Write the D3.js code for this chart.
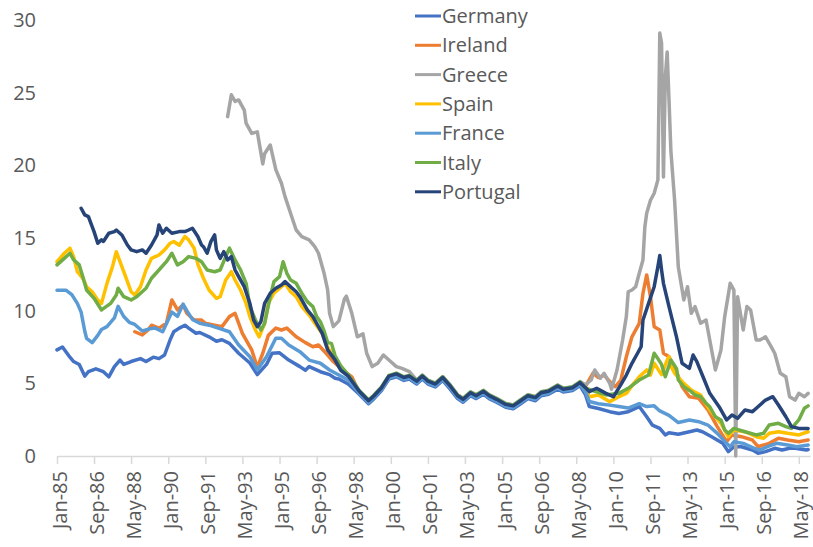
<!DOCTYPE html>
<html>
<head>
<meta charset="utf-8">
<script src="https://cdnjs.cloudflare.com/ajax/libs/d3/7.8.5/d3.min.js"></script>
<style>
    body { margin: 0; background: #fff; }
    text { font-family: "Open Sans", "DejaVu Sans", sans-serif; fill: #595959; }
</style>
</head>
<body>
<div id="chart"></div>
<script>

// 10-year government bond yields, %
var germany = [
    ["1985-01",7.3],["1985-04",7.5],["1985-08",6.8],["1985-10",6.5],["1986-01",6.3],["1986-04",5.5],["1986-06",5.8],["1986-10",6.0],
    ["1987-02",5.8],["1987-05",5.45],["1987-08",6.15],["1987-11",6.6],["1988-01",6.3],["1988-05",6.5],["1988-10",6.7],["1989-01",6.5],
    ["1989-05",6.8],["1989-08",6.7],["1989-11",6.95],["1990-02",8.0],["1990-04",8.55],["1990-07",8.8],["1990-10",9.0],["1990-12",8.8],
    ["1991-04",8.45],["1991-06",8.5],["1991-11",8.2],["1992-03",7.9],["1992-06",8.0],["1992-10",7.75],["1993-03",7.07],["1993-09",6.4],
    ["1994-01",5.6],["1994-06",6.3],["1994-09",7.07],["1995-01",7.1],["1995-06",6.6],["1995-12",6.15],["1996-03",5.9],["1996-05",6.15],
    ["1996-11",5.8],["1997-04",5.6],["1997-07",5.35],["1997-09",5.3],["1998-02",4.95],["1998-08",4.25],["1999-01",3.6],["1999-04",3.95],
    ["1999-08",4.5],["1999-12",5.3],["2000-04",5.45],["2000-08",5.2],["2000-11",5.3],["2001-03",4.95],["2001-06",5.3],["2001-09",4.95],
    ["2002-01",4.75],["2002-05",5.2],["2002-09",4.6],["2003-01",3.95],["2003-04",3.7],["2003-08",4.15],["2003-11",3.95],["2004-03",4.25],
    ["2004-06",3.95],["2004-10",3.7],["2005-03",3.35],["2005-07",3.25],["2005-11",3.6],["2006-03",3.95],["2006-07",3.8],["2006-10",4.15],
    ["2007-02",4.25],["2007-07",4.6],["2007-10",4.4],["2008-03",4.5],["2008-07",4.85],["2008-10",4.2],["2008-12",3.4],["2009-05",3.27],
    ["2009-11",3.05],["2010-04",2.93],["2010-09",3.05],["2011-03",3.4],["2011-07",2.7],["2011-10",2.13],["2012-02",1.9],["2012-05",1.45],
    ["2012-07",1.6],["2012-12",1.5],["2013-06",1.67],["2013-10",1.79],["2014-01",1.67],["2014-06",1.33],["2014-12",0.87],["2015-03",0.3],
    ["2015-06",0.64],["2015-10",0.64],["2016-04",0.41],["2016-07",0.19],["2016-11",0.3],["2017-04",0.53],["2017-08",0.41],["2017-12",0.53],
    ["2018-03",0.53],["2018-09",0.41],["2018-10",0.45]
];

var ireland = [
    ["1988-07",8.55],["1988-11",8.33],["1989-02",8.67],["1989-04",9.0],["1989-08",8.8],["1989-12",9.13],["1990-03",10.74],["1990-06",10.05],
    ["1990-09",10.4],["1990-11",9.82],["1991-03",9.36],["1991-07",9.36],["1991-09",9.13],["1992-02",9.0],["1992-06",8.9],["1992-10",9.59],
    ["1993-01",9.82],["1993-05",8.44],["1993-10",7.3],["1994-01",6.1],["1994-04",7.07],["1994-07",8.3],["1994-11",8.8],["1995-02",8.67],
    ["1995-05",8.8],["1995-10",8.2],["1996-03",7.8],["1996-07",7.52],["1996-10",7.64],["1997-03",6.95],["1997-06",6.5],["1997-11",5.92],
    ["1998-04",5.45],["1998-08",4.37],["1999-01",3.72],["1999-04",4.07],["1999-08",4.62],["1999-12",5.42],["2000-04",5.57],["2000-08",5.32],
    ["2000-11",5.42],["2001-03",5.07],["2001-06",5.42],["2001-09",5.07],["2002-01",4.87],["2002-05",5.32],["2002-09",4.74],["2003-01",4.07],
    ["2003-04",3.82],["2003-08",4.27],["2003-11",4.07],["2004-03",4.37],["2004-06",4.07],["2004-10",3.82],["2005-03",3.47],["2005-07",3.37],
    ["2005-11",3.72],["2006-03",4.07],["2006-07",3.94],["2006-10",4.27],["2007-02",4.37],["2007-07",4.74],["2007-10",4.52],["2008-03",4.62],
    ["2008-07",4.97],["2008-10",4.8],["2009-02",5.7],["2009-05",5.4],["2009-08",5.57],["2009-12",5.0],["2010-02",4.77],["2010-05",5.2],
    ["2010-08",6.83],["2010-11",8.2],["2011-03",9.13],["2011-05",11.2],["2011-07",12.46],["2011-09",10.96],["2011-11",8.9],["2012-02",8.67],
    ["2012-04",7.07],["2012-07",6.83],["2012-11",5.8],["2013-02",4.77],["2013-06",4.08],["2013-11",3.97],["2014-04",3.17],["2014-09",2.02],
    ["2015-02",0.98],["2015-05",1.45],["2015-10",1.33],["2016-04",1.1],["2016-07",0.64],["2017-01",0.87],["2017-06",1.22],["2017-11",1.1],
    ["2018-05",0.98],["2018-10",1.1]
];

var greece = [
    ["1992-09",23.35],["1992-11",24.85],["1993-01",24.4],["1993-03",24.5],["1993-06",23.8],["1993-07",22.9],["1993-10",22.2],["1994-01",22.3],
    ["1994-04",20.1],["1994-05",20.8],["1994-08",21.4],["1994-11",19.7],["1995-02",18.77],["1995-04",17.85],["1995-07",16.7],["1995-10",15.55],
    ["1996-01",15.1],["1996-05",14.87],["1996-08",14.4],["1996-10",13.95],["1997-01",12.57],["1997-03",11.42],["1997-04",9.82],["1997-06",8.9],
    ["1997-09",9.3],["1997-12",10.8],["1998-01",11.0],["1998-04",9.82],["1998-07",8.2],["1998-10",8.4],["1998-12",7.07],["1999-03",6.15],
    ["1999-06",6.38],["1999-09",6.95],["1999-12",6.6],["2000-04",6.15],["2000-07",6.03],["2000-11",5.8],["2001-03",5.22],["2001-06",5.57],
    ["2001-09",5.22],["2002-01",5.02],["2002-05",5.47],["2002-09",4.89],["2003-01",4.22],["2003-04",3.97],["2003-08",4.42],["2003-11",4.22],
    ["2004-03",4.52],["2004-06",4.22],["2004-10",3.97],["2005-03",3.62],["2005-07",3.52],["2005-11",3.87],["2006-03",4.22],["2006-07",4.09],
    ["2006-10",4.42],["2007-02",4.52],["2007-07",4.89],["2007-10",4.67],["2008-03",4.77],["2008-07",5.12],["2008-10",4.9],["2009-01",5.23],
    ["2009-03",5.92],["2009-06",5.35],["2009-08",5.69],["2009-11",5.0],["2009-12",4.6],["2010-03",5.92],["2010-06",7.98],["2010-08",9.59],
    ["2010-09",11.3],["2010-11",11.42],["2011-01",11.65],["2011-03",12.57],["2011-05",13.49],["2011-06",15.78],["2011-07",16.7],["2011-09",17.6],
    ["2011-11",18.08],["2012-01",19.0],["2012-02",29.1],["2012-03",28.4],["2012-04",19.2],["2012-05",26.0],["2012-06",27.8],["2012-07",24.5],
    ["2012-08",21.0],["2012-10",17.6],["2012-12",13.0],["2013-03",10.74],["2013-05",11.65],["2013-07",9.82],["2013-09",10.28],["2013-12",9.13],
    ["2014-03",9.36],["2014-05",7.98],["2014-08",5.92],["2014-11",7.3],["2015-01",9.59],["2015-04",11.88],["2015-06",11.42],["2015-07",0],
    ["2015-08",10.96],["2015-11",8.67],["2016-01",10.28],["2016-03",10.05],["2016-06",7.98],["2016-08",7.98],["2016-11",8.2],["2017-02",7.52],
    ["2017-04",7.07],["2017-07",5.69],["2017-10",5.45],["2017-12",4.08],["2018-03",3.85],["2018-05",4.31],["2018-08",4.08],["2018-10",4.31]
];

var spain = [
    ["1985-01",13.37],["1985-05",13.95],["1985-08",14.3],["1985-10",13.7],["1985-12",12.68],["1986-03",12.23],["1986-05",11.65],["1986-08",11.3],
    ["1986-11",10.74],["1987-01",10.5],["1987-04",11.88],["1987-07",13.03],["1987-09",14.06],["1987-11",13.37],["1988-02",12.34],["1988-05",11.3],
    ["1988-07",11.08],["1988-10",11.65],["1989-01",12.8],["1989-04",13.6],["1989-08",13.83],["1989-11",14.18],["1990-02",14.64],["1990-04",14.76],
    ["1990-07",14.5],["1990-10",15.1],["1990-12",14.87],["1991-03",14.3],["1991-05",13.2],["1991-08",12.23],["1991-11",11.42],["1992-03",10.85],
    ["1992-05",10.96],["1992-08",12.11],["1992-11",12.68],["1993-01",12.11],["1993-04",11.42],["1993-07",10.5],["1993-09",9.59],["1993-12",8.67],
    ["1994-02",8.2],["1994-05",9.13],["1994-07",10.5],["1994-10",11.2],["1995-02",11.65],["1995-04",11.88],["1995-07",11.3],["1995-10",10.96],
    ["1996-01",10.28],["1996-05",9.7],["1996-08",9.13],["1996-12",8.44],["1997-03",7.5],["1997-06",6.8],["1997-11",6.0],["1998-03",5.4],
    ["1998-08",4.4],["1999-01",3.75],["1999-04",4.1],["1999-08",4.65],["1999-12",5.45],["2000-04",5.6],["2000-08",5.35],["2000-11",5.45],
    ["2001-03",5.1],["2001-06",5.45],["2001-09",5.1],["2002-01",4.9],["2002-05",5.35],["2002-09",4.77],["2003-01",4.1],["2003-04",3.85],
    ["2003-08",4.3],["2003-11",4.1],["2004-03",4.4],["2004-06",4.1],["2004-10",3.85],["2005-03",3.5],["2005-07",3.4],["2005-11",3.75],
    ["2006-03",4.1],["2006-07",3.97],["2006-10",4.3],["2007-02",4.4],["2007-07",4.77],["2007-10",4.55],["2008-03",4.65],["2008-07",5.0],
    ["2008-10",4.6],["2008-12",4.08],["2009-05",4.2],["2009-11",3.74],["2010-04",4.08],["2010-08",4.31],["2010-12",5.0],["2011-03",5.45],
    ["2011-07",5.92],["2011-09",5.57],["2011-11",6.38],["2012-03",5.6],["2012-06",6.6],["2012-07",6.83],["2012-08",6.2],["2012-10",5.69],
    ["2013-03",5.0],["2013-07",4.54],["2013-12",4.2],["2014-05",3.17],["2014-11",2.25],["2015-03",1.33],["2015-06",1.79],["2015-12",1.67],
    ["2016-06",1.33],["2016-10",1.22],["2017-01",1.56],["2017-06",1.67],["2017-11",1.56],["2018-05",1.45],["2018-10",1.67]
];

var france = [
    ["1985-01",11.4],["1985-06",11.4],["1985-09",11.1],["1985-12",10.5],["1986-02",9.9],["1986-04",8.6],["1986-05",8.1],["1986-08",7.8],
    ["1986-11",8.3],["1987-01",8.7],["1987-04",8.9],["1987-08",9.5],["1987-10",10.3],["1988-01",9.6],["1988-04",9.2],["1988-07",9.05],
    ["1988-11",8.6],["1989-03",8.75],["1989-06",8.8],["1989-10",8.55],["1989-12",9.1],["1990-03",9.9],["1990-06",9.6],["1990-09",10.45],
    ["1990-11",10.0],["1991-02",9.4],["1991-06",9.13],["1991-11",9.0],["1992-04",8.8],["1992-10",8.55],["1993-03",7.64],["1993-09",6.83],
    ["1994-01",5.92],["1994-06",6.83],["1994-11",8.1],["1995-02",8.1],["1995-06",7.64],["1995-12",7.18],["1996-05",6.6],["1996-11",6.38],
    ["1997-04",5.92],["1997-09",5.57],["1998-02",5.23],["1998-08",4.32],["1999-01",3.67],["1999-04",4.02],["1999-08",4.57],["1999-12",5.37],
    ["2000-04",5.52],["2000-08",5.27],["2000-11",5.37],["2001-03",5.02],["2001-06",5.37],["2001-09",5.02],["2002-01",4.82],["2002-05",5.27],
    ["2002-09",4.69],["2003-01",4.02],["2003-04",3.77],["2003-08",4.22],["2003-11",4.02],["2004-03",4.32],["2004-06",4.02],["2004-10",3.77],
    ["2005-03",3.42],["2005-07",3.32],["2005-11",3.67],["2006-03",4.02],["2006-07",3.89],["2006-10",4.22],["2007-02",4.32],["2007-07",4.69],
    ["2007-10",4.47],["2008-03",4.57],["2008-07",4.92],["2008-10",4.4],["2008-12",3.75],["2009-05",3.6],["2009-11",3.5],["2010-04",3.4],
    ["2010-09",3.3],["2011-03",3.6],["2011-07",3.4],["2011-11",3.45],["2012-02",3.1],["2012-07",2.8],["2012-12",2.3],["2013-06",2.48],
    ["2013-11",2.36],["2014-04",2.13],["2014-09",1.56],["2015-02",0.87],["2015-04",0.64],["2015-06",0.98],["2015-11",0.87],["2016-05",0.53],
    ["2016-08",0.41],["2016-12",0.64],["2017-05",0.87],["2017-11",0.76],["2018-04",0.64],["2018-10",0.76]
];

var italy = [
    ["1985-01",13.15],["1985-05",13.6],["1985-08",13.95],["1985-10",13.5],["1986-01",13.15],["1986-03",12.34],["1986-05",11.42],["1986-09",10.85],
    ["1987-01",10.05],["1987-06",10.5],["1987-09",11.08],["1987-10",11.54],["1988-01",10.96],["1988-05",10.74],["1988-08",10.96],["1989-01",11.54],
    ["1989-04",12.23],["1989-08",12.8],["1989-12",13.37],["1990-03",13.95],["1990-06",13.15],["1990-09",13.37],["1990-12",13.72],["1991-04",13.6],
    ["1991-07",13.37],["1991-10",12.8],["1992-02",12.68],["1992-05",12.8],["1992-08",13.72],["1992-10",14.3],["1993-01",13.49],["1993-03",13.03],
    ["1993-04",12.8],["1993-07",11.88],["1993-09",10.28],["1993-12",9.36],["1994-03",8.67],["1994-05",9.13],["1994-08",10.96],["1994-10",12.0],
    ["1995-01",12.34],["1995-03",13.37],["1995-05",12.57],["1995-07",12.11],["1995-10",11.88],["1996-01",11.2],["1996-04",10.62],["1996-07",10.28],
    ["1996-09",9.59],["1996-11",9.24],["1997-01",8.6],["1997-03",7.8],["1997-05",7.75],["1997-07",6.9],["1997-10",6.2],["1998-02",5.6],
    ["1998-08",4.5],["1999-01",3.85],["1999-04",4.2],["1999-08",4.75],["1999-12",5.55],["2000-04",5.7],["2000-08",5.45],["2000-11",5.55],
    ["2001-03",5.2],["2001-06",5.55],["2001-09",5.2],["2002-01",5.0],["2002-05",5.45],["2002-09",4.87],["2003-01",4.2],["2003-04",3.95],
    ["2003-08",4.4],["2003-11",4.2],["2004-03",4.5],["2004-06",4.2],["2004-10",3.95],["2005-03",3.6],["2005-07",3.5],["2005-11",3.85],
    ["2006-03",4.2],["2006-07",4.07],["2006-10",4.4],["2007-02",4.5],["2007-07",4.87],["2007-10",4.65],["2008-03",4.75],["2008-07",5.1],
    ["2008-10",4.66],["2009-09",4.2],["2010-04",4.31],["2010-09",4.66],["2011-03",5.23],["2011-08",5.57],["2011-11",7.07],["2012-01",6.7],
    ["2012-03",6.3],["2012-05",5.45],["2012-08",6.6],["2012-11",6.03],["2012-12",5.23],["2013-03",4.77],["2013-07",4.43],["2013-09",4.2],
    ["2013-12",4.08],["2014-03",3.63],["2014-05",3.39],["2014-08",2.7],["2014-11",2.48],["2015-01",1.79],["2015-03",1.56],["2015-06",1.9],
    ["2015-12",1.67],["2016-06",1.45],["2016-10",1.56],["2017-01",2.13],["2017-06",2.25],["2017-10",2.02],["2018-01",1.9],["2018-05",2.48],
    ["2018-08",3.28],["2018-10",3.45]
];

var portugal = [
    ["1986-02",17.05],["1986-04",16.59],["1986-06",16.47],["1986-07",16.13],["1986-09",15.44],["1986-11",14.64],["1987-01",14.87],["1987-02",14.76],
    ["1987-05",15.33],["1987-08",15.44],["1987-09",15.55],["1987-12",15.21],["1988-03",14.52],["1988-05",14.18],["1988-08",14.06],["1988-11",14.18],
    ["1989-01",13.95],["1989-04",14.52],["1989-07",15.21],["1989-08",15.9],["1989-10",15.33],["1989-12",15.67],["1990-03",15.33],["1990-07",15.44],
    ["1990-10",15.44],["1990-12",15.55],["1991-02",15.67],["1991-05",15.1],["1991-07",14.52],["1991-08",14.4],["1991-10",13.95],["1991-12",14.75],
    ["1992-02",15.21],["1992-03",14.18],["1992-05",13.6],["1992-07",14.06],["1992-09",13.49],["1992-11",13.72],["1993-01",12.8],["1993-03",12.34],
    ["1993-06",11.65],["1993-09",10.5],["1993-11",9.36],["1994-01",8.9],["1994-03",9.24],["1994-05",10.5],["1994-08",11.2],["1994-11",11.54],
    ["1995-02",11.77],["1995-04",12.0],["1995-07",11.65],["1995-10",11.3],["1995-12",10.96],["1996-04",10.05],["1996-07",9.59],["1996-09",9.13],
    ["1996-12",8.44],["1997-03",7.3],["1997-07",6.6],["1997-10",5.9],["1998-02",5.5],["1998-08",4.45],["1999-01",3.8],["1999-04",4.15],
    ["1999-08",4.7],["1999-12",5.5],["2000-04",5.65],["2000-08",5.4],["2000-11",5.5],["2001-03",5.15],["2001-06",5.5],["2001-09",5.15],
    ["2002-01",4.95],["2002-05",5.4],["2002-09",4.82],["2003-01",4.15],["2003-04",3.9],["2003-08",4.35],["2003-11",4.15],["2004-03",4.45],
    ["2004-06",4.15],["2004-10",3.9],["2005-03",3.55],["2005-07",3.45],["2005-11",3.8],["2006-03",4.15],["2006-07",4.02],["2006-10",4.35],
    ["2007-02",4.45],["2007-07",4.82],["2007-10",4.6],["2008-03",4.7],["2008-07",5.05],["2008-10",4.7],["2008-12",4.43],["2009-04",4.66],
    ["2009-09",4.31],["2010-01",4.08],["2010-05",4.89],["2010-08",5.57],["2010-11",6.38],["2011-02",7.07],["2011-04",7.52],["2011-05",9.36],
    ["2011-08",10.5],["2011-11",11.65],["2012-01",13.03],["2012-02",13.8],["2012-03",12.8],["2012-04",11.88],["2012-07",10.28],["2012-11",8.2],
    ["2013-02",6.38],["2013-06",6.03],["2013-08",6.95],["2013-10",6.49],["2014-02",5.23],["2014-05",4.31],["2014-10",3.39],["2015-02",2.48],
    ["2015-05",2.82],["2015-08",2.59],["2015-12",3.17],["2016-04",3.05],["2016-07",3.39],["2016-11",3.85],["2017-03",4.08],["2017-06",3.51],
    ["2017-10",2.7],["2018-01",2.02],["2018-05",1.9],["2018-10",1.9]
];

var countries = ["Germany", "Ireland", "Greece", "Spain", "France", "Italy", "Portugal"];
var seriesData = [germany, ireland, greece, spain, france, italy, portugal];
var colours = ["#4472C4", "#ED7D31", "#A5A5A5", "#FFC000", "#5B9BD5", "#70AD47", "#264478"];

var yTicks = [0, 5, 10, 15, 20, 25, 30];
var firstMonth = "1985-01";
var lastMonth = "2018-11";
var tickEvery = 20; // a label every 20 months, as in the original

var width = 813;
var height = 547;

var margin = {
    top: 20,
    bottom: 91,
    left: 57,
    right: 3
};

var parseMonth = d3.timeParse("%Y-%m");
var fmt = d3.timeFormat("%b-%y");

var svg = d3.select("#chart")
    .append("svg")
    .attr("width", width)
    .attr("height", height);

var xScale = d3.scaleTime()
    .domain([parseMonth(firstMonth), parseMonth(lastMonth)])
    .range([margin.left, width - margin.right]);

var yScale = d3.scaleLinear()
    .domain([0, 30])
    .range([height - margin.bottom, margin.top]);

// x axis: light line, small ticks, labels turned up
var start = parseMonth(firstMonth);
var tickDates = d3.range(0, 401, tickEvery).map(function(m) {
    return d3.timeMonth.offset(start, m);
});

var xAxis = d3.axisBottom(xScale)
    .tickValues(tickDates)
    .tickFormat(fmt)
    .tickSizeInner(8)
    .tickSizeOuter(0);

var gx = svg.append("g")
    .attr("class", "x axis")
    .attr("transform", "translate(0," + yScale(0) + ")")
    .call(xAxis);

gx.select(".domain").attr("stroke", "#D9D9D9").attr("stroke-width", 1.5);
gx.selectAll(".tick line").attr("stroke", "#D9D9D9").attr("stroke-width", 1.5);
gx.selectAll(".tick text")
    .attr("font-size", "20px")
    .attr("fill", "#595959")
    .attr("text-anchor", "end")
    .attr("transform", "rotate(-90)")
    .attr("x", -15)
    .attr("y", 2)
    .attr("dy", "0.35em");

// y axis: labels only
var yAxis = d3.axisLeft(yScale)
    .tickValues(yTicks)
    .tickSize(0)
    .tickPadding(0);

var gy = svg.append("g")
    .attr("class", "y axis")
    .attr("transform", "translate(36,0)")
    .call(yAxis);

gy.select(".domain").remove();
gy.selectAll(".tick text")
    .attr("font-size", "20px")
    .attr("fill", "#595959");

// lines
var line = d3.line()
    .x(function(d) { return xScale(parseMonth(d[0])); })
    .y(function(d) { return yScale(d[1]); });

svg.selectAll(".series")
    .data(seriesData)
    .enter()
    .append("path")
    .attr("class", "series")
    .attr("d", line)
    .attr("fill", "none")
    .attr("stroke", function(d, i) { return colours[i]; })
    .attr("stroke-width", 3.5)
    .attr("stroke-linejoin", "round")
    .attr("stroke-linecap", "round");

// legend
var legend = svg.append("g")
    .attr("class", "legend")
    .attr("transform", "translate(415,16)");

var rows = legend.selectAll(".row")
    .data(countries)
    .enter()
    .append("g")
    .attr("class", "row")
    .attr("transform", function(d, i) { return "translate(0," + (i * 29.3) + ")"; });

rows.append("line")
    .attr("x1", 0)
    .attr("x2", 26)
    .attr("y1", 0)
    .attr("y2", 0)
    .attr("stroke", function(d, i) { return colours[i]; })
    .attr("stroke-width", 3);

rows.append("text")
    .attr("x", 27)
    .attr("dy", "0.35em")
    .attr("font-size", "20px")
    .text(function(d) { return d; });

</script>
</body>
</html>
